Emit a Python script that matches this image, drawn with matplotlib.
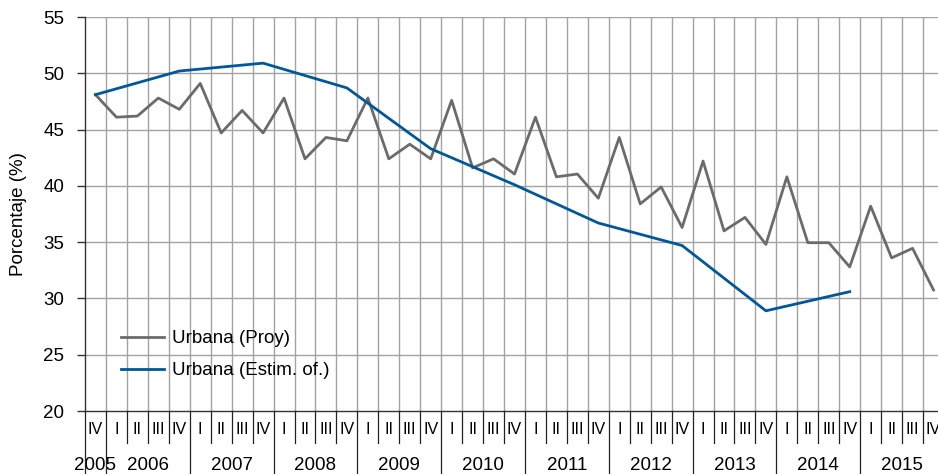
import numpy as np
import matplotlib
matplotlib.use("Agg")
import matplotlib.pyplot as plt
import matplotlib.transforms as mtransforms

plt.rcParams['font.family'] = ['Liberation Sans Narrow', 'Liberation Sans', 'DejaVu Sans']

quarters = ["IV"] + ["I", "II", "III", "IV"] * 10
years = ["2005"] + [str(y) for y in range(2006, 2016)]

urbana_proy = [48.1,
               46.1, 46.2, 47.8, 46.8,
               49.1, 44.7, 46.7, 44.7,
               47.8, 42.4, 44.3, 44.0,
               47.8, 42.4, 43.7, 42.4,
               47.6, 41.6, 42.4, 41.05,
               46.1, 40.8, 41.05, 38.9,
               44.3, 38.4, 39.9, 36.3,
               42.2, 36.0, 37.2, 34.8,
               40.8, 34.95, 34.95, 32.8,
               38.2, 33.6, 34.45, 30.75]

nan = np.nan
urbana_estim = [48.1,
                nan, nan, nan, 50.2,
                nan, nan, nan, 50.9,
                nan, nan, nan, 48.7,
                nan, nan, nan, 43.3,
                nan, nan, nan, 40.1,
                nan, nan, nan, 36.7,
                nan, nan, nan, 34.7,
                nan, nan, nan, 28.9,
                nan, nan, nan, 30.6,
                nan, nan, nan, nan]

n = len(quarters)
x = np.arange(n)

W, H = 938, 474
fig = plt.figure(figsize=(W / 100, H / 100), dpi=100)
left_px, right_px, top_px, bot_px = 85, 944, 17, 411
ax = fig.add_axes([left_px / W, (H - bot_px) / H,
                   (right_px - left_px) / W, (bot_px - top_px) / H])

grid_c = '#a3a3a3'
ax.set_xlim(-0.5, n - 0.5)
ax.set_ylim(20, 55)
ax.set_yticks(np.arange(20, 56, 5))
for yv in np.arange(25, 56, 5):
    ax.axhline(yv, color=grid_c, lw=1.0, zorder=1)
for b in np.arange(0.5, n, 1.0):
    ax.axvline(b, color=grid_c, lw=1.0, zorder=1)

ax.plot(x, urbana_proy, color='#6b6b6b', lw=2.0, label='Urbana (Proy)', zorder=3)
est = np.array(urbana_estim, dtype=float)
m = ~np.isnan(est)
ax.plot(x[m], est[m], color='#00589a', lw=2.0, label='Urbana (Estim. of.)', zorder=4)

for s in ['top', 'right']:
    ax.spines[s].set_visible(False)
ax.spines['left'].set_color('#333333')
ax.spines['bottom'].set_color('#333333')
ax.spines['left'].set_linewidth(1.0)
ax.spines['bottom'].set_linewidth(1.0)
ax.set_xticks([])
ax.tick_params(axis='y', length=6, width=1.0, color='#333333', pad=9, labelsize=13.5)
ax.set_ylabel('Porcentaje (%)', fontsize=13.5)
ax.yaxis.set_label_coords((19 - left_px) / (right_px - left_px), 0.5)
ax.yaxis.label.set_va('center')

# x-axis categorical labels
trans = mtransforms.blended_transform_factory(ax.transData, ax.transAxes)
q_y = (bot_px - 430) / (bot_px - top_px)
y_y = (bot_px - 465) / (bot_px - top_px)
q_end = (bot_px - 443) / (bot_px - top_px)
y_end = (bot_px - 480) / (bot_px - top_px)
for i, q in enumerate(quarters):
    ax.text(i, q_y, q, transform=trans, ha='center', va='center', fontsize=11.5)
for b in np.arange(-0.5, n, 1.0):
    is_year = (b == -0.5) or (abs((b - 0.5) % 4) < 1e-9)
    ax.plot([b, b], [0, y_end if is_year else q_end], transform=trans,
            color='#222222', lw=0.9, clip_on=False, zorder=5)
centers = [0.0] + [1 + 4 * k + 1.5 for k in range(10)]
for c, yl in zip(centers, years):
    ax.text(c, y_y, yl, transform=trans, ha='center', va='center', fontsize=13.5)

leg = ax.legend(loc='upper left',
                bbox_to_anchor=((121 - left_px) / (right_px - left_px), (bot_px - 330) / (bot_px - top_px)),
                frameon=False, fontsize=13.5, handlelength=2.3, handletextpad=0.4,
                labelspacing=0.8, borderpad=0, borderaxespad=0)

fig.savefig('out.png', dpi=100)
